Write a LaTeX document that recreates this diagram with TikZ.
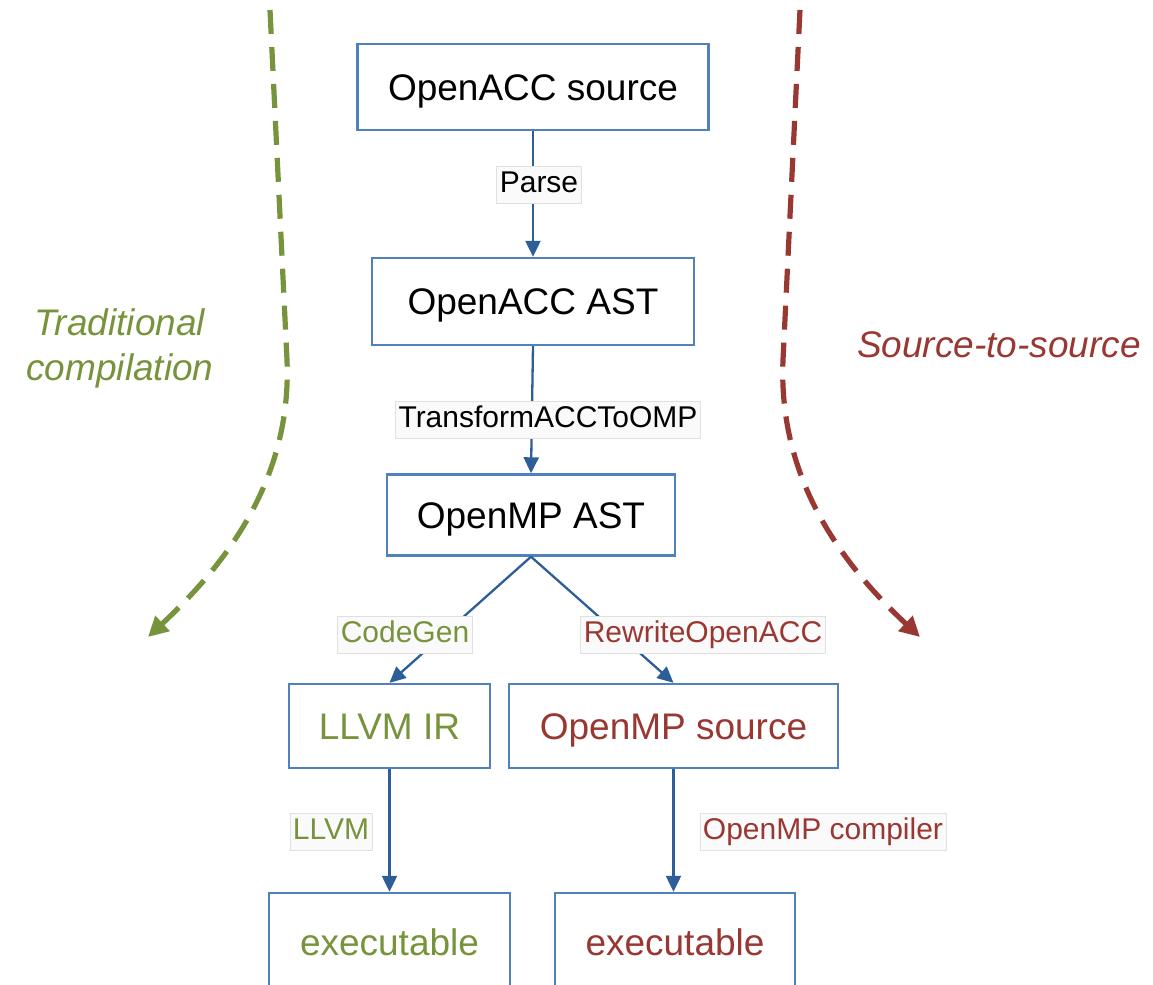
\documentclass[tikz,border=0pt]{standalone}
\usepackage{fontspec}
\setmainfont{Liberation Sans}
\usetikzlibrary{arrows.meta}
\definecolor{boxblue}{HTML}{4F81BD}
\definecolor{arrowblue}{HTML}{2E5E97}
\definecolor{olive}{HTML}{77933C}
\definecolor{brick}{HTML}{993833}
\definecolor{tagfill}{HTML}{FAFAFA}
\definecolor{tagline}{HTML}{E0E0E0}

\begin{document}
\begin{tikzpicture}[x=0.5pt,y=-0.5pt,
  stage/.style={draw=boxblue, line width=1.2pt, fill=white, inner sep=0pt,
    text height=13.3pt, text depth=0pt,
    font=\fontsize{18.5}{22}\selectfont},
  tag/.style={draw=tagline, fill=tagfill, line width=0.4pt, inner xsep=1.5pt,
    inner ysep=2pt, text height=11pt, text depth=3.5pt,
    font=\fontsize{15}{18}\selectfont},
  flow/.style={draw=arrowblue, line width=1.15pt, -{Triangle[length=8pt,width=7.5pt]}},
  route/.style={line width=2.6pt, dash pattern=on 12pt off 6.5pt,
    -{Triangle[length=10pt,width=10pt]}},
  side/.style={font=\fontsize{18.5}{22.5}\selectfont\itshape, align=center}]

\useasboundingbox (0,0) rectangle (1153,985);
\clip (0,0) rectangle (1153,985);

% the two compilation routes
\draw[route, olive] (270,10) -- (287,360) .. controls (292,480) and (225,565) .. (148,637);
\draw[route, brick] (800,10) -- (783,360) .. controls (778,480) and (843,565) .. (920,637);
\node[side, text=olive] (trad) at (120,348) {Traditional\\compilation};
\node[side, text=brick] (s2s) at (999,345) {Source-to-source};

% compilation stages
\node[stage, minimum width=175.5pt, minimum height=43pt] (accsrc) at (533,87) {OpenACC source};
\node[stage, minimum width=161pt, minimum height=43.5pt] (accast) at (533,301.5) {OpenACC AST};
\node[stage, minimum width=144pt, minimum height=40.5pt] (ompast) at (531,515) {OpenMP AST};
\node[stage, minimum width=100.5pt, minimum height=42pt, text=olive] (llvmir) at (389.5,726) {LLVM IR};
\node[stage, minimum width=164.5pt, minimum height=42pt, text=brick] (ompsrc) at (673.5,726) {OpenMP source};
\node[stage, minimum width=120.5pt, minimum height=49pt, text=olive] (exeA) at (389.5,942) {executable};
\node[stage, minimum width=120pt, minimum height=49pt, text=brick] (exeB) at (675,942) {executable};

% transitions
\draw[flow] (accsrc.south) -- (accast.north);
\draw[flow] (accast.south) -- (ompast.north);
\draw[flow] (ompast.south) -- (llvmir.north);
\draw[flow] (ompast.south) -- (ompsrc.north);
\draw[flow] (llvmir.south) -- (exeA.north);
\draw[flow] (ompsrc.south) -- (exeB.north -| ompsrc.south);

% transition labels
\node[tag] (parse) at (539,185) {Parse};
\node[tag] (xform) at (548,420) {TransformACCToOMP};
\node[tag, text=olive] (cgen) at (405,635) {CodeGen};
\node[tag, text=brick] (rewrite) at (703,635) {RewriteOpenACC};
\node[tag, text=olive] (llvm) at (331,832) {LLVM};
\node[tag, text=brick] (ompc) at (823,832) {OpenMP compiler};
\end{tikzpicture}
\end{document}
